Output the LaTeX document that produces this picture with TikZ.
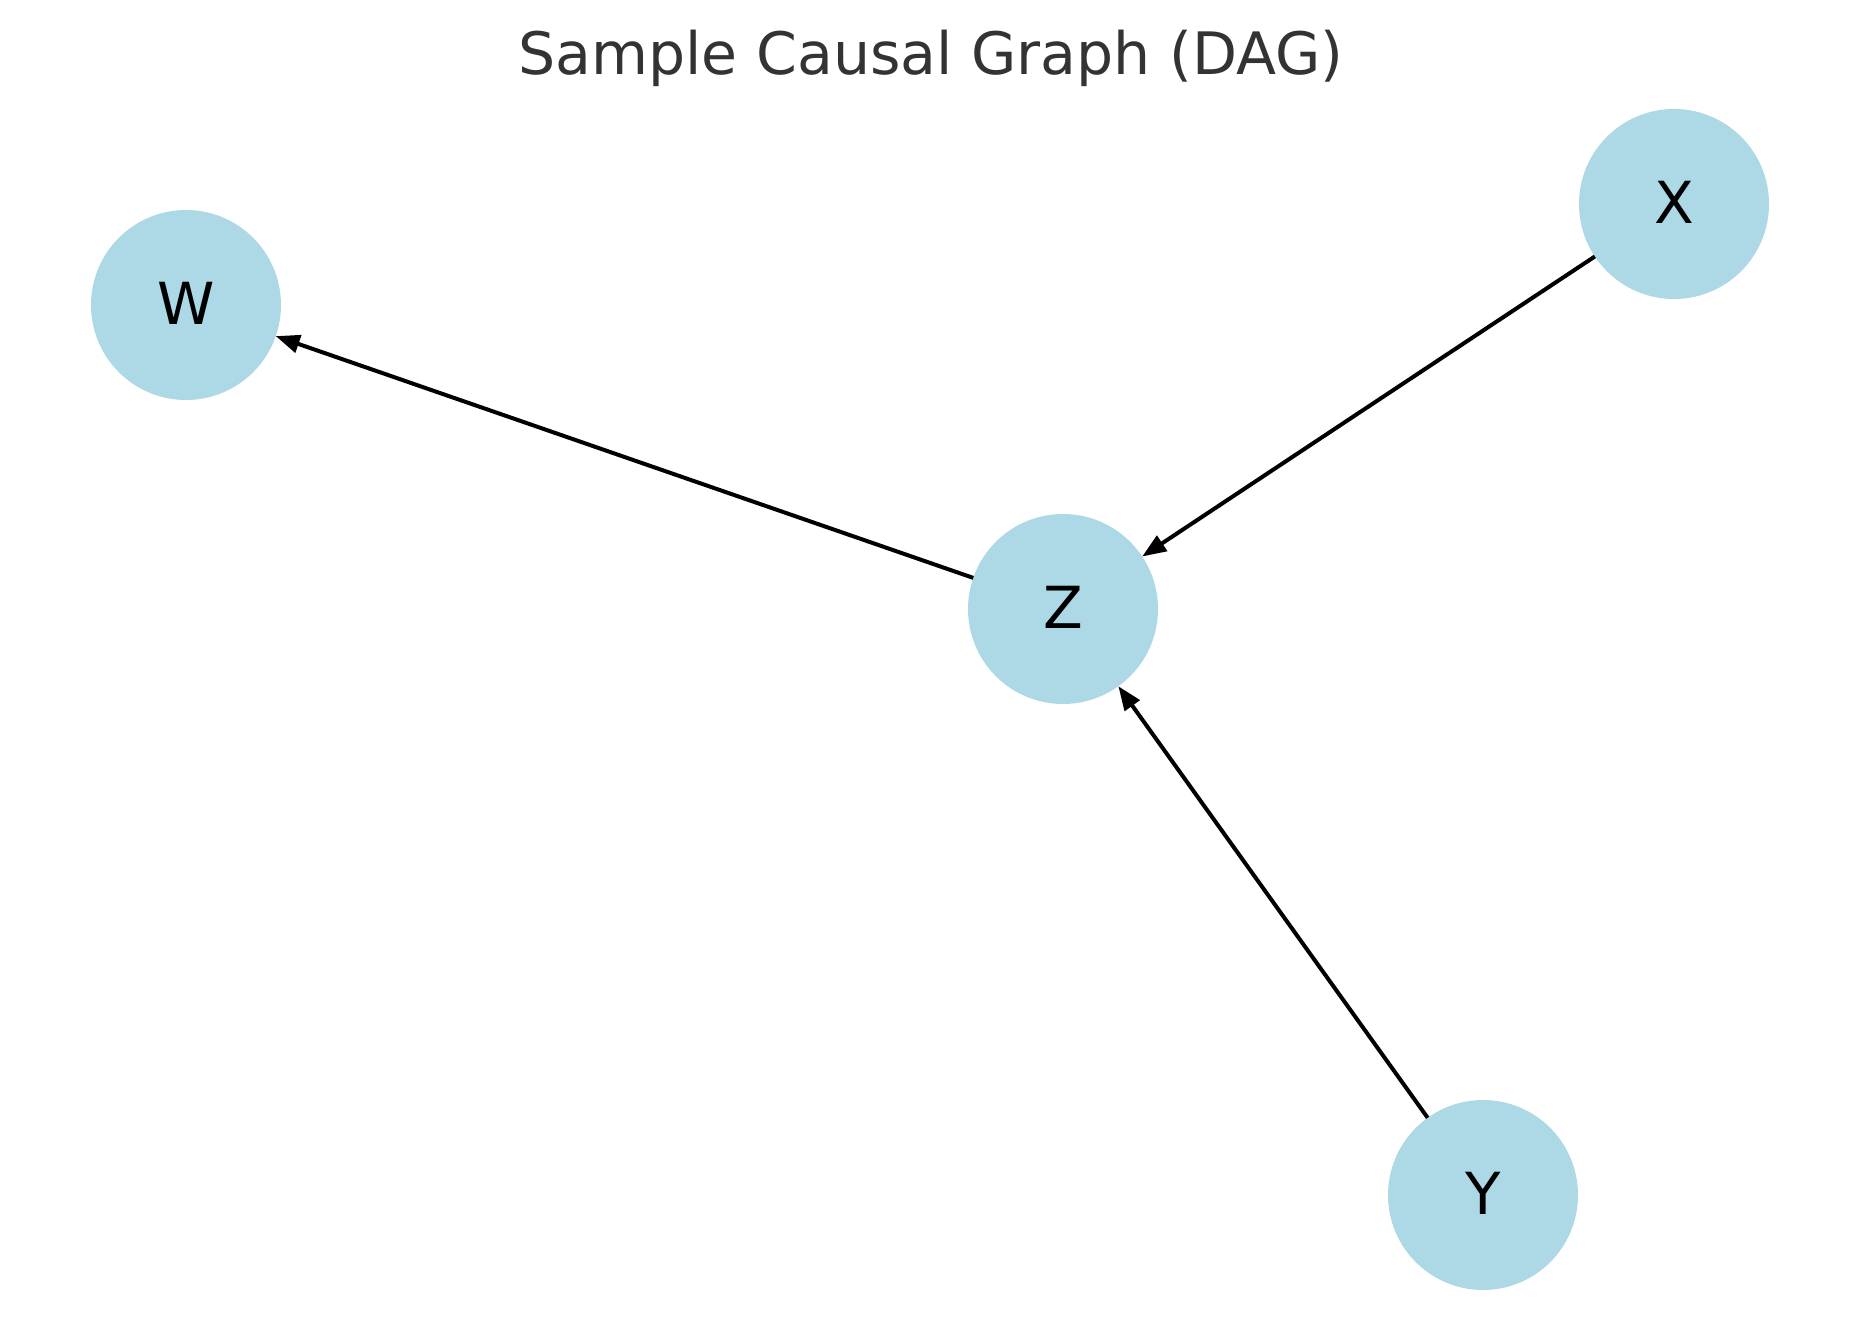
\documentclass[tikz,border=0pt]{standalone}
\usepackage{fontspec}
\setmainfont{DejaVu Sans}
\usetikzlibrary{arrows.meta}
\definecolor{nodeblue}{HTML}{ADD8E6}
\definecolor{titlegray}{HTML}{333333}
\tikzset{
  vnode/.style={circle, fill=nodeblue, minimum size=190pt, inner sep=0pt, outer sep=0pt, font=\fontsize{58}{70}\selectfont},
  edge/.style={line width=4pt, -{Triangle[length=24pt,width=18pt]}, black}
}
\begin{document}
\begin{tikzpicture}[x=1pt,y=-1pt]
\useasboundingbox (0,0) rectangle (1859,1329);
\node[anchor=base, text=titlegray, font=\fontsize{58.5}{70}\selectfont] (title) at (931,75) {Sample Causal Graph (DAG)};
\node[vnode] (W) at (186,305) {\raisebox{3pt}{W}};
\node[vnode] (X) at (1674,204) {\raisebox{3pt}{X}};
\node[vnode] (Z) at (1063,609) {\raisebox{3pt}{Z}};
\node[vnode] (Y) at (1483,1195) {\raisebox{3pt}{Y}};
\draw[edge] (Z) -- (W);
\draw[edge] (X) -- (Z);
\draw[edge] (Y) -- (Z);
\end{tikzpicture}
\end{document}
